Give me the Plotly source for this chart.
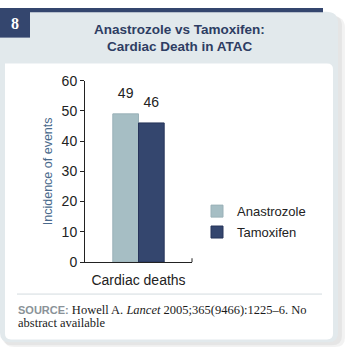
import plotly.graph_objects as go

W, H = 350, 357

categories = ["Cardiac deaths"]
series_names = ["Anastrozole", "Tamoxifen"]
anastrozole = [49]
tamoxifen = [46]
y_ticks = [0, 10, 20, 30, 40, 50, 60]

colors = {"Anastrozole": "#a6bec4", "Tamoxifen": "#34466e"}
edge = {"Anastrozole": "#9ab1b8", "Tamoxifen": "#26345a"}


def px(x):
    return x / W


def py(y):
    return 1 - y / H


def rrect(x0, y0, x1, y1, r_tl=0, r_tr=0, r_br=0, r_bl=0):
    def P(x, y):
        return f"{px(x):.5f},{py(y):.5f}"
    d = f"M{P(x0 + r_tl, y0)} L{P(x1 - r_tr, y0)} "
    d += f"Q{P(x1, y0)} {P(x1, y0 + r_tr)} " if r_tr else ""
    d += f"L{P(x1, y1 - r_br)} "
    d += f"Q{P(x1, y1)} {P(x1 - r_br, y1)} " if r_br else ""
    d += f"L{P(x0 + r_bl, y1)} "
    d += f"Q{P(x0, y1)} {P(x0, y1 - r_bl)} " if r_bl else ""
    d += f"L{P(x0, y0 + r_tl)} "
    d += f"Q{P(x0, y0)} {P(x0 + r_tl, y0)} " if r_tl else ""
    d += "Z"
    return d


fig = go.Figure()
for name, vals in zip(series_names, [anastrozole, tamoxifen]):
    fig.add_trace(go.Bar(
        name=name, x=categories, y=vals, offsetgroup=name,
        marker=dict(color=colors[name], line=dict(color=edge[name], width=1)),
        legendgroup=name,
    ))
for name, vals in zip(series_names, [anastrozole, tamoxifen]):
    fig.add_trace(go.Scatter(
        name=name, x=categories, y=vals, offsetgroup=name,
        mode="markers+text", marker=dict(size=18, opacity=0, color=colors[name]),
        text=[str(v) for v in vals], textposition="top center",
        textfont=dict(family="Liberation Sans, Arial", size=14, color="#222222"),
        cliponaxis=False, showlegend=False, hoverinfo="skip",
    ))

shapes = []
shapes.append(dict(type="path", xref="paper", yref="paper",
                   path=rrect(4, 9, 345, 355, 0, 12, 10, 10),
                   fillcolor="rgba(0,0,0,0.05)", line=dict(width=0), layer="below"))
shapes.append(dict(type="path", xref="paper", yref="paper",
                   path=rrect(2, 7, 342, 353, 0, 12, 10, 10),
                   fillcolor="rgba(0,0,0,0.05)", line=dict(width=0), layer="below"))
shapes.append(dict(type="path", xref="paper", yref="paper",
                   path=rrect(0, 4, 338, 350, 0, 12, 10, 10),
                   fillcolor="#e2e9ec", line=dict(width=0), layer="below"))
shapes.append(dict(type="path", xref="paper", yref="paper",
                   path=rrect(5, 58, 333, 347, 0, 6, 6, 6),
                   fillcolor="#ffffff", line=dict(width=0), layer="below"))
shapes.append(dict(type="rect", xref="paper", yref="paper",
                   x0=px(0), x1=px(323), y0=py(0), y1=py(4.5),
                   fillcolor="#34466e", line=dict(width=0), layer="below"))
shapes.append(dict(type="rect", xref="paper", yref="paper",
                   x0=px(0), x1=px(30), y0=py(0), y1=py(31),
                   fillcolor="#34466e", line=dict(width=0), layer="below"))
shapes.append(dict(type="line", xref="paper", yref="paper",
                   x0=px(17), x1=px(322), y0=py(299.5), y1=py(299.5),
                   line=dict(color="#d3dbdf", width=1)))
shapes.append(dict(type="line", xref="paper", yref="paper",
                   x0=px(192), x1=px(192), y0=py(266), y1=py(262),
                   line=dict(color="#222222", width=1)))

annotations = [
    dict(text="<b>8</b>", x=px(15), y=py(16), xref="paper", yref="paper",
         showarrow=False, font=dict(family="Liberation Serif, Times New Roman", size=16, color="#ffffff"),
         xanchor="center", yanchor="middle"),
    dict(text="<b>Anastrozole vs Tamoxifen:</b>", x=px(180), y=py(23), xref="paper", yref="paper",
         showarrow=False, font=dict(family="Liberation Sans, Arial", size=13.5, color="#2e3d63"),
         xanchor="center", yanchor="middle"),
    dict(text="<b>Cardiac Death in ATAC</b>", x=px(180), y=py(40.5), xref="paper", yref="paper",
         showarrow=False, font=dict(family="Liberation Sans, Arial", size=13.5, color="#2e3d63"),
         xanchor="center", yanchor="middle"),
    dict(text='<span style="font-family:Liberation Sans, Arial;font-size:11px;color:#8a9298"><b>SOURCE:</b></span> '
              'Howell A. <i>Lancet</i> 2005;365(9466):1225–6. No',
         x=px(16), y=py(316), xref="paper", yref="paper", showarrow=False,
         font=dict(family="Liberation Serif, Times New Roman", size=12.5, color="#1a1a1a"),
         xanchor="left", yanchor="middle"),
    dict(text="abstract available",
         x=px(16), y=py(330), xref="paper", yref="paper", showarrow=False,
         font=dict(family="Liberation Serif, Times New Roman", size=12.5, color="#1a1a1a"),
         xanchor="left", yanchor="middle"),
]

fig.update_layout(
    width=W, height=H,
    margin=dict(l=0, r=0, t=0, b=0),
    paper_bgcolor="#ffffff", plot_bgcolor="rgba(0,0,0,0)",
    barmode="group", bargap=0.52, bargroupgap=0,
    scattermode="group", scattergap=0.52,
    shapes=shapes, annotations=annotations,
    showlegend=True,
    legend=dict(x=px(197), y=py(197), xanchor="left", yanchor="top",
                font=dict(family="Liberation Sans, Arial", size=13, color="#222222"),
                bgcolor="rgba(0,0,0,0)", tracegroupgap=1, itemwidth=30),
    font=dict(family="Liberation Sans, Arial"),
)
fig.update_xaxes(domain=[px(85), px(192)], range=[-0.5, 0.5],
                 showline=True, linecolor="#222222", linewidth=1,
                 ticks="", tickfont=dict(size=14, color="#222222"), ticklabelstandoff=5,
                 showgrid=False, zeroline=False, fixedrange=True)
fig.update_yaxes(domain=[py(266), py(76)], range=[0, 60], tickvals=y_ticks,
                 showline=True, linecolor="#222222", linewidth=1,
                 ticks="outside", ticklen=4, tickcolor="#222222",
                 tickfont=dict(size=14, color="#222222"),
                 title=dict(text="Incidence of events", font=dict(size=12.5, color="#4a6a8c"), standoff=6),
                 showgrid=False, zeroline=False, fixedrange=True)

fig.write_html("out.html", config={"displayModeBar": False})
